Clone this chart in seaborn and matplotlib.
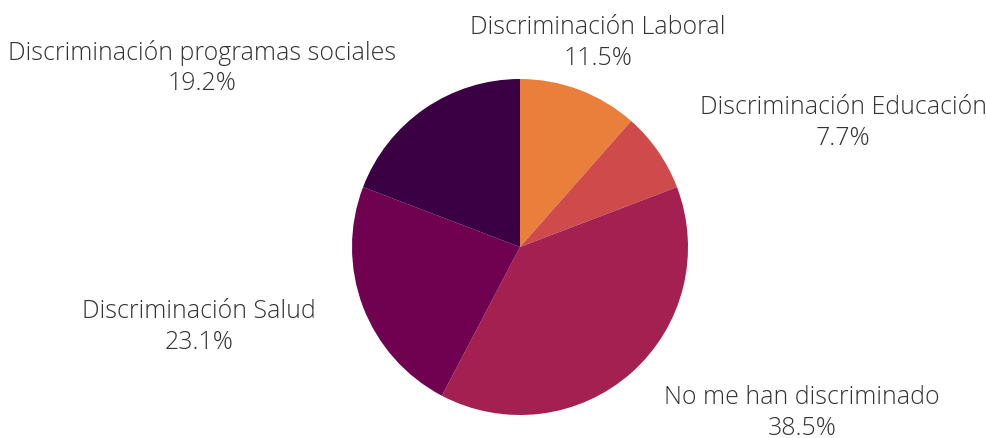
import matplotlib
matplotlib.use("Agg")
import matplotlib.pyplot as plt
import seaborn as sns

categories = ["Discriminación Laboral", "Discriminación Educación",
              "No me han discriminado", "Discriminación Salud",
              "Discriminación programas sociales"]
values = [11.5, 7.7, 38.5, 23.1, 19.2]
colors = ["#E97F3B", "#CF4A4A", "#A32051", "#700050", "#3A0043"]

# label centres in pixel coordinates (from top-left)
label_pos = [(598, 43), (843, 123), (802, 413), (199, 327), (202, 68)]

sns.set_theme(style="white")
plt.rcParams['font.family'] = ['Open Sans', 'DejaVu Sans']

W, H = 987, 439
fig = plt.figure(figsize=(W / 100, H / 100), dpi=100)
ax = fig.add_axes([0, 0, 1, 1])

ax.pie(values, colors=colors, startangle=90, counterclock=False,
       center=(520, H - 248), radius=168, frame=True,
       wedgeprops=dict(linewidth=0))
ax.set_xlim(0, W)
ax.set_ylim(0, H)
ax.set_aspect("equal")
ax.axis("off")

for cat, val, (px, py) in zip(categories, values, label_pos):
    ax.text(px, H - py, f"{cat}\n{val:.1f}%", ha="center", va="center",
            multialignment="center", fontsize=17.9, fontweight="light",
            color="#333333", linespacing=1.3)

fig.savefig("out.png", dpi=100)
